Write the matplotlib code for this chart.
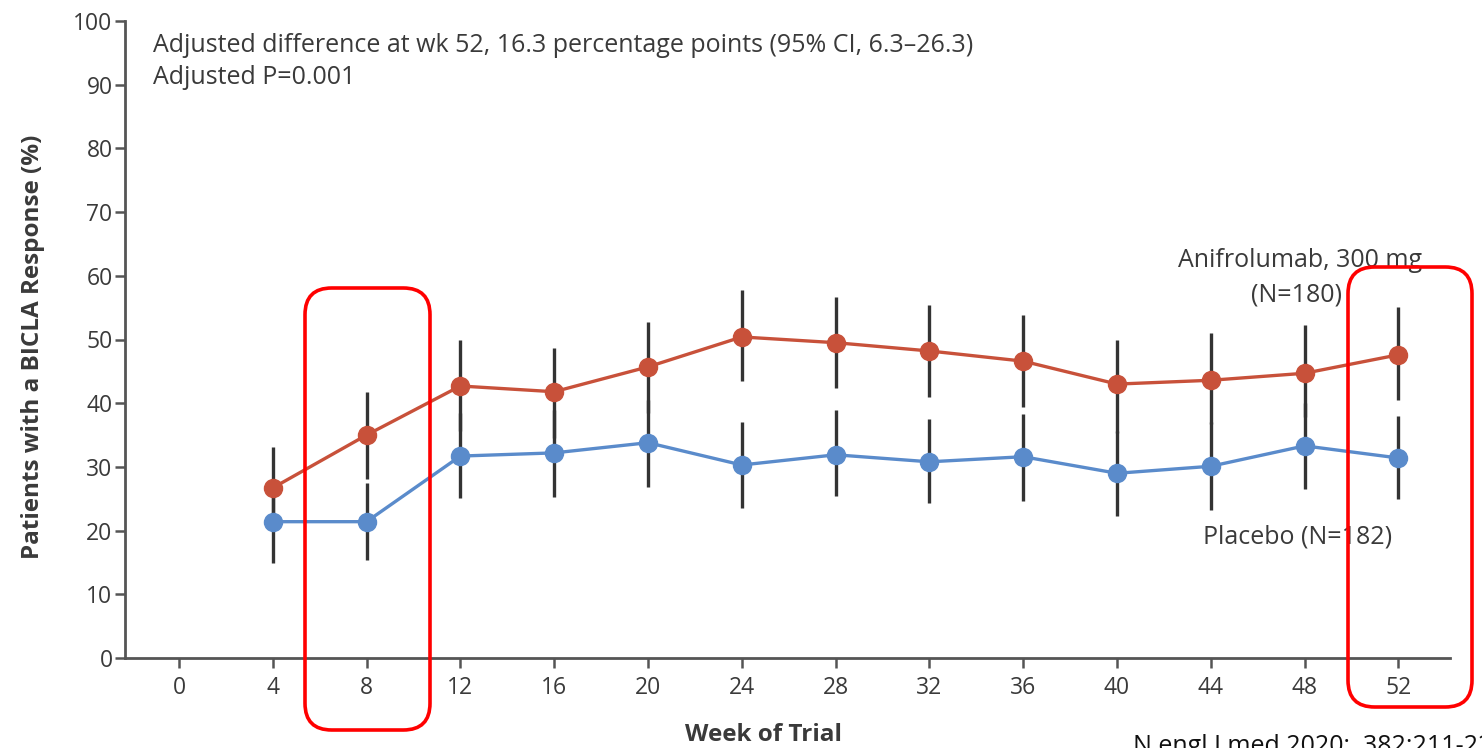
import matplotlib
matplotlib.use("Agg")
import matplotlib.pyplot as plt
from matplotlib.patches import FancyBboxPatch

weeks = [4, 8, 12, 16, 20, 24, 28, 32, 36, 40, 44, 48, 52]
anif = [26.7, 35.0, 42.7, 41.8, 45.7, 50.4, 49.5, 48.2, 46.6, 43.0, 43.6, 44.7, 47.6]
anif_lo = [19.9, 28.1, 35.6, 34.5, 38.5, 43.5, 42.4, 41.0, 39.4, 35.3, 36.8, 37.8, 40.5]
anif_hi = [33.1, 41.8, 49.9, 48.7, 52.7, 57.8, 56.7, 55.4, 53.8, 49.9, 51.0, 52.3, 55.1]
plac = [21.4, 21.4, 31.7, 32.2, 33.8, 30.3, 31.9, 30.8, 31.6, 29.0, 30.1, 33.3, 31.4]
plac_lo = [14.9, 15.4, 25.1, 25.3, 26.8, 23.5, 25.4, 24.3, 24.6, 22.3, 23.3, 26.5, 25.0]
plac_hi = [27.2, 27.5, 38.5, 38.9, 40.5, 37.0, 38.9, 37.5, 38.3, 35.6, 37.0, 40.0, 38.0]
xticks = list(range(0, 53, 4))
yticks = list(range(0, 101, 10))

RED = "#C8513A"
BLUE = "#5A8BCB"
TXT = "#3a3a3a"

plt.rcParams['font.family'] = ['Open Sans', 'DejaVu Sans']

fig = plt.figure(figsize=(14.82, 7.48), dpi=100)
W, H = 1482, 748
ax = fig.add_axes([125 / W, 1 - 658 / H, (1450 - 125) / W, (658 - 21) / H])

for lo, hi in [(plac_lo, plac_hi), (anif_lo, anif_hi)]:
    ax.vlines(weeks, lo, hi, color="#333333", lw=2.4, zorder=2)

ax.plot(weeks, plac, color=BLUE, lw=2.4, marker='o', ms=13, zorder=3)
ax.plot(weeks, anif, color=RED, lw=2.4, marker='o', ms=13, zorder=3)

ax.set_xlim(-2.3, 54.2)
ax.set_ylim(0, 100)
ax.set_xticks(xticks)
ax.set_yticks(yticks)
ax.tick_params(axis='both', labelsize=16.5, colors="#555555", labelcolor=TXT,
               length=7, width=1.8, direction='out')
ax.tick_params(axis='y', pad=2)
ax.tick_params(axis='x', pad=6)
for s in ['top', 'right']:
    ax.spines[s].set_visible(False)
for s in ['left', 'bottom']:
    ax.spines[s].set_color("#555555")
    ax.spines[s].set_linewidth(2)

ax.set_ylabel("Patients with a BICLA Response (%)", fontsize=17.5, fontweight='bold',
              color=TXT, va='center')
ax.yaxis.set_label_coords(-0.0694, 0.488)
ax.set_xlabel("Week of Trial", fontsize=17.5, fontweight='bold', color=TXT, va='center')
ax.xaxis.set_label_coords(0.482, -0.121)

def fx(px):
    return px / W

def fy(py):
    return 1 - py / H

fig.text(fx(153), fy(46), "Adjusted difference at wk 52, 16.3 percentage points (95% CI, 6.3\u201326.3)",
         fontsize=18, color=TXT, va='center', ha='left')
fig.text(fx(153), fy(78), "Adjusted P=0.001", fontsize=18, color=TXT, va='center', ha='left')
fig.text(fx(1300), fy(260), "Anifrolumab, 300 mg", fontsize=18, color=TXT, va='center', ha='center')
fig.text(fx(1297), fy(295), "(N=180)", fontsize=18, color=TXT, va='center', ha='center')
fig.text(fx(1298), fy(537), "Placebo (N=182)", fontsize=18, color=TXT, va='center', ha='center')
fig.text(fx(1133), fy(734), "N engl J med 2020;  382:211-221", fontsize=18, color="#111111",
         va='top', ha='left')

for (x0, y0, x1, y1) in [(305, 288, 430, 730), (1348, 267, 1472, 707)]:
    p = FancyBboxPatch((fx(x0), fy(y1)), fx(x1 - x0), (y1 - y0) / H,
                       boxstyle="round,pad=0,rounding_size=0.018",
                       transform=fig.transFigure, fill=False, ec="#FF0000", lw=2.6,
                       mutation_aspect=W / H, zorder=10)
    fig.patches.append(p)

fig.savefig("out.png", dpi=100)
